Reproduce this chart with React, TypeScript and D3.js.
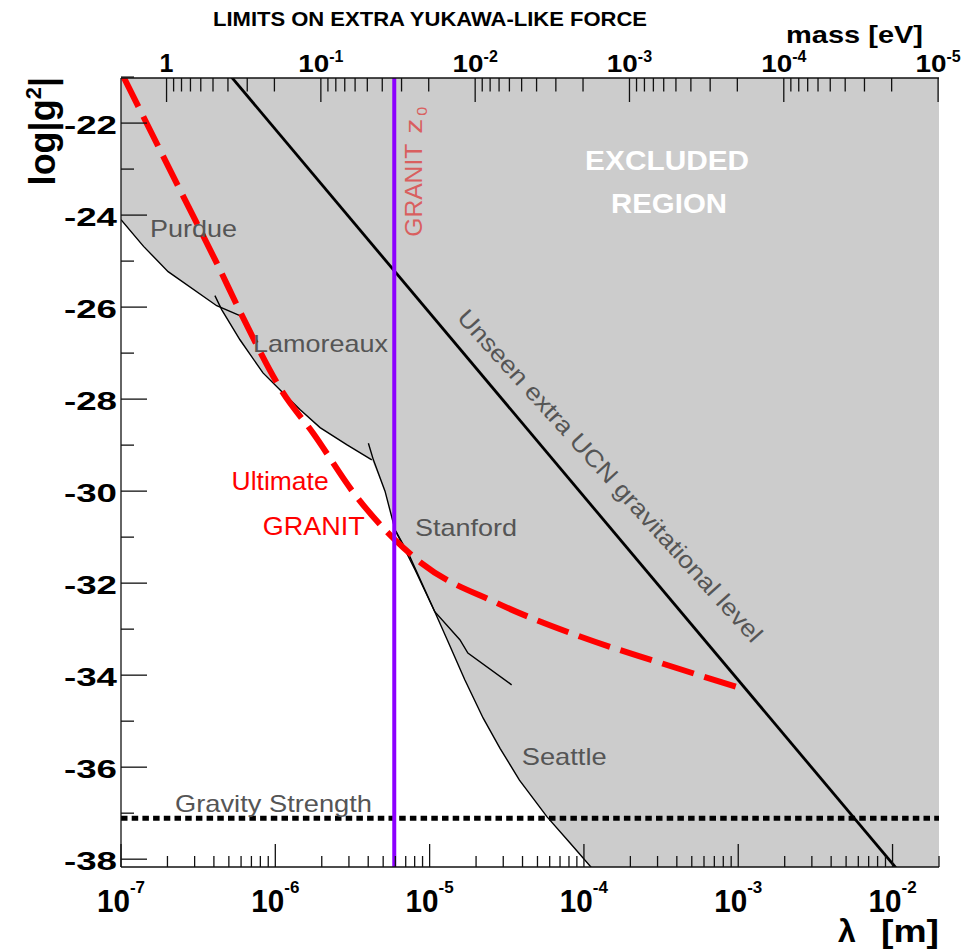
import React, { useEffect, useRef } from "react";
import * as d3 from "d3";

type Pt = [number, number];

// every point is [lambda (m), log|g^2|]
const purdue: Pt[] = [
  [1.0e-7, -24.1], [1.4e-7, -24.68], [2.02e-7, -25.23], [4.17e-7, -25.97], [6.05e-7, -26.2],
];
const lamoreaux: Pt[] = [
  [4.06e-7, -25.75], [4.5e-7, -26.06], [5.9e-7, -26.71], [8.32e-7, -27.43], [1.12e-6, -27.86],
  [1.45e-6, -28.23], [1.95e-6, -28.62], [2.9e-6, -28.99], [4.22e-6, -29.32],
];
const stanford: Pt[] = [
  [4.01e-6, -28.96], [4.32e-6, -29.32], [5.14e-6, -30.0], [5.97e-6, -30.84], [7.46e-6, -31.43],
  [1.08e-5, -32.62], [1.57e-5, -33.23], [1.77e-5, -33.52], [3.4e-5, -34.21],
];
const seattle: Pt[] = [
  [6.05e-6, -30.88], [8.04e-6, -31.71], [1.08e-5, -32.62], [1.3e-5, -33.23], [1.69e-5, -34.1],
  [2.22e-5, -34.93], [2.86e-5, -35.59], [3.82e-5, -36.28], [5.77e-5, -37.08], [8.13e-5, -37.65],
  [1.13e-4, -38.2],
];
const purdueLamoreauxCross: Pt = [4.42e-7, -26.01];

const ultimateGranit: Pt[] = [
  [1.04e-7, -21.0], [2.6e-7, -23.67], [4.17e-7, -25.04], [6.18e-7, -26.23], [1.12e-6, -27.86],
  [1.75e-6, -28.73], [3.29e-6, -30.08], [5.14e-6, -30.84], [5.97e-6, -31.06], [8.89e-6, -31.57],
  [2.72e-5, -32.43], [9.44e-5, -33.16], [3.11e-4, -33.73], [1.03e-3, -34.28],
];
const ucnLevel: Pt[] = [[5.2e-7, -21.0], [1.06e-2, -38.2]];
const granitZ0 = 5.9e-6;
const gravityStrength = -37.11;

const lambdaRange: [number, number] = [1e-7, 2e-2];
const gRange: [number, number] = [-38.17, -21.02];
const gMajorTicks = [-22, -24, -26, -28, -30, -32, -34, -36, -38];
const gMinorTicks = [-21, -23, -25, -27, -29, -31, -33, -35, -37];
const lambdaDecades = [-7, -6, -5, -4, -3, -2];
const massDecades = [-1, -2, -3, -4, -5];
const hbarC = 1.97327e-7; // eV m

const grayLabels = [
  { text: "Purdue", at: [1.54e-7, -24.47], len: 87 },
  { text: "Lamoreaux", at: [7.17e-7, -26.97], len: 135 },
  { text: "Stanford", at: [8.04e-6, -30.97], len: 102 },
  { text: "Seattle", at: [3.95e-5, -35.95], len: 85 },
  { text: "Gravity Strength", at: [2.24e-7, -36.97], len: 197 },
];
const redLabels = [
  { text: "Ultimate", at: [5.21e-7, -29.97], len: 97 },
  { text: "GRANIT", at: [8.28e-7, -30.95], len: 102 },
];
const excludedLabels = [
  { text: "EXCLUDED", at: [3.46e-4, -23.02], len: 164 },
  { text: "REGION", at: [3.56e-4, -23.95], len: 116 },
];
const ucnLabel = { text: "Unseen extra UCN gravitational level", at: [1.48e-5, -26.25], len: 440, angle: 47.7 };
const z0Label = { at: [8.89e-6, -24.47] };

const font = "'Liberation Sans', Arial, Helvetica, sans-serif";

export default function App() {
  const ref = useRef<SVGSVGElement>(null);

  useEffect(() => {
    const svg = d3.select(ref.current);
    svg.selectAll("*").remove();

    const left = 121, right = 939, top = 78, bottom = 867;
    const x = d3.scaleLog().domain(lambdaRange).range([left, right]);
    const y = d3.scaleLinear().domain(gRange).range([bottom, top]);
    // mass = hbar c / lambda, so the top axis is the same log axis reversed
    const xm = d3.scaleLog().domain([hbarC / lambdaRange[0], hbarC / lambdaRange[1]]).range([left, right]);

    svg.append("defs").append("clipPath").attr("id", "plotArea")
      .append("rect").attr("x", left).attr("y", top).attr("width", right - left).attr("height", bottom - top);
    const plot = svg.append("g").attr("clip-path", "url(#plotArea)");

    const line = d3.line<Pt>().x(d => x(d[0])).y(d => y(d[1]));

    // excluded region: above the lowest of the measured limits
    const edge: Pt[] = [
      ...purdue.slice(0, 4), purdueLamoreauxCross, ...lamoreaux.slice(1),
      ...stanford.slice(2, 4), ...seattle.slice(1),
      [lambdaRange[1], gRange[0]], [lambdaRange[1], gRange[1]], [lambdaRange[0], gRange[1]],
    ];
    plot.append("path").attr("d", line(edge) + "Z").attr("fill", "#cccccc");

    plot.selectAll(".limit").data([purdue, lamoreaux, stanford, seattle]).join("path")
      .attr("class", "limit").attr("d", d => line(d)).attr("fill", "none")
      .attr("stroke", "#000").attr("stroke-width", 1.4);

    plot.append("line")
      .attr("x1", left).attr("x2", right)
      .attr("y1", y(gravityStrength)).attr("y2", y(gravityStrength))
      .attr("stroke", "#000").attr("stroke-width", 5).attr("stroke-dasharray", "6.5 4.2");

    plot.append("path").attr("d", line(ucnLevel)).attr("fill", "none")
      .attr("stroke", "#000").attr("stroke-width", 2.8);

    plot.append("path").attr("d", line.curve(d3.curveMonotoneX)(ultimateGranit)).attr("fill", "none")
      .attr("stroke", "#ff0000").attr("stroke-width", 6).attr("stroke-dasharray", "33 11");

    plot.append("line")
      .attr("x1", x(granitZ0)).attr("x2", x(granitZ0)).attr("y1", top).attr("y2", bottom)
      .attr("stroke", "#8c00ff").attr("stroke-width", 4);

    // text labels in the plot
    const txt = (g: any, t: string, px: number, py: number, size: number, len: number, color: string, weight = "normal", anchor = "start") =>
      g.append("text").attr("x", px).attr("y", py).attr("font-family", font).attr("font-size", size)
        .attr("font-weight", weight).attr("fill", color).attr("text-anchor", anchor)
        .attr("textLength", len).attr("lengthAdjust", "spacingAndGlyphs").text(t);

    grayLabels.forEach(l => txt(svg, l.text, x(l.at[0]), y(l.at[1]), 24, l.len, "#555555"));
    redLabels.forEach(l => txt(svg, l.text, x(l.at[0]), y(l.at[1]), 25, l.len, "#ff0000"));
    excludedLabels.forEach(l => txt(svg, l.text, x(l.at[0]), y(l.at[1]), 28, l.len, "#ffffff", "bold", "middle"));

    const ucnG = svg.append("g")
      .attr("transform", `translate(${x(ucnLabel.at[0])},${y(ucnLabel.at[1])}) rotate(${ucnLabel.angle})`);
    txt(ucnG, ucnLabel.text, 0, 0, 24, ucnLabel.len, "#555555");

    const z0G = svg.append("g")
      .attr("transform", `translate(${x(z0Label.at[0])},${y(z0Label.at[1])}) rotate(-90)`);
    txt(z0G, "GRANIT", 0, 0, 24.5, 93, "#d95f5f");
    txt(z0G, "z", 103, 0, 24.5, 15, "#d95f5f");
    txt(z0G, "0", 121, 5, 15, 9, "#d95f5f");

    // axes
    const ax = svg.append("g").attr("stroke", "#111").attr("stroke-width", 1.3);
    ax.append("line").attr("x1", left).attr("x2", left).attr("y1", top).attr("y2", bottom);
    ax.append("line").attr("x1", left).attr("x2", right).attr("y1", bottom).attr("y2", bottom);
    ax.append("line").attr("x1", left).attr("x2", right).attr("y1", top).attr("y2", top);

    ax.selectAll(".ymaj").data(gMajorTicks).join("line").attr("class", "ymaj")
      .attr("x1", left).attr("x2", left + 26).attr("y1", d => y(d)).attr("y2", d => y(d));
    ax.selectAll(".ymin").data(gMinorTicks).join("line").attr("class", "ymin")
      .attr("x1", left).attr("x2", left + 13).attr("y1", d => y(d)).attr("y2", d => y(d));

    const isDecade = (v: number) => Math.abs(Math.log10(v) - Math.round(Math.log10(v))) < 1e-6;
    ax.selectAll(".xt").data(x.ticks()).join("line").attr("class", "xt")
      .attr("x1", d => x(d)).attr("x2", d => x(d))
      .attr("y1", bottom).attr("y2", d => bottom - (isDecade(d) ? 23 : 11));
    ax.selectAll(".mt").data(xm.ticks()).join("line").attr("class", "mt")
      .attr("x1", d => xm(d)).attr("x2", d => xm(d))
      .attr("y1", top).attr("y2", d => top + (isDecade(d) ? 24 : 13.5));

    const labels = svg.append("g").attr("font-family", font).attr("font-weight", "bold").attr("fill", "#000");

    labels.selectAll(".yl").data(gMajorTicks).join("text").attr("class", "yl")
      .attr("x", 117).attr("y", d => y(d) + 11).attr("text-anchor", "end")
      .attr("font-size", 25).attr("textLength", 53).attr("lengthAdjust", "spacingAndGlyphs")
      .text(d => String(d));

    // 10^k labels, centred on the tick including the exponent
    const pow = (cx: number, base: number, exp: number, fs: number, w: number, sfs: number, rise: number) => {
      const sup = labels.append("text").attr("y", base - rise).attr("font-size", sfs).text(String(exp));
      const sw = (sup.node() as SVGTextElement).getComputedTextLength();
      const x0 = cx - (w + sw) / 2;
      labels.append("text").attr("x", x0).attr("y", base).attr("font-size", fs)
        .attr("textLength", w).attr("lengthAdjust", "spacingAndGlyphs").text("10");
      sup.attr("x", x0 + w);
    };
    lambdaDecades.forEach(e => pow(x(Math.pow(10, e)), 912, e, 31, 33, 17, 19));
    massDecades.forEach(e => pow(xm(Math.pow(10, e)), 72, e, 24, 31, 16, 10));
    labels.append("text").attr("x", xm(1)).attr("y", 72).attr("font-size", 25)
      .attr("text-anchor", "middle").text("1");

    // titles
    labels.append("text").attr("x", 213).attr("y", 26).attr("font-size", 20)
      .attr("textLength", 434).attr("lengthAdjust", "spacingAndGlyphs")
      .text("LIMITS ON EXTRA YUKAWA-LIKE FORCE");
    labels.append("text").attr("x", 786).attr("y", 43).attr("font-size", 24)
      .attr("textLength", 137).attr("lengthAdjust", "spacingAndGlyphs").text("mass [eV]");
    labels.append("text").attr("x", 838).attr("y", 942).attr("font-size", 32).text("λ");
    labels.append("text").attr("x", 939).attr("y", 942).attr("font-size", 32).attr("text-anchor", "end")
      .attr("textLength", 58).attr("lengthAdjust", "spacingAndGlyphs").text("[m]");

    const yt = labels.append("text").attr("transform", "translate(55,77) rotate(-90)")
      .attr("text-anchor", "end").attr("font-size", 36);
    yt.append("tspan").text("log|g");
    yt.append("tspan").attr("dy", -14).attr("font-size", 22).text("2");
    yt.append("tspan").attr("dy", 14).text("|");
  }, []);

  return (
    <svg ref={ref} width={972} height={949}
      style={{ position: "absolute", left: 0, top: 0, background: "#fff" }} />
  );
}
